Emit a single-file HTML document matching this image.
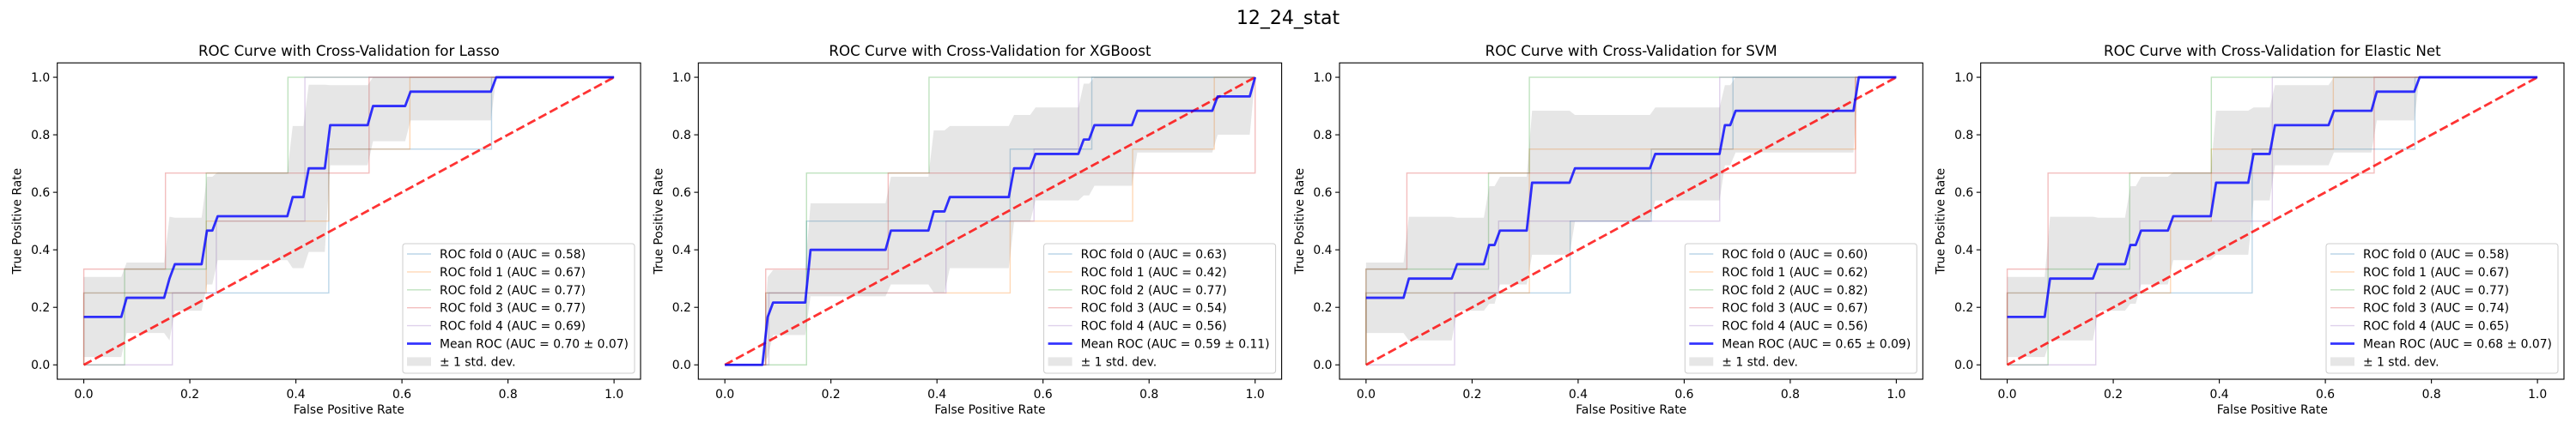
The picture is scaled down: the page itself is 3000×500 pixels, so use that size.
<!DOCTYPE html>
<html><head><meta charset="utf-8"><style>
html,body{margin:0;padding:0;background:#fff;width:3000px;height:500px;overflow:hidden}
svg text{font-family:"DejaVu Sans","Liberation Sans",sans-serif;fill:#000}
</style></head><body>
<svg id="fig" width="3000" height="500" viewBox="0 0 3000 500" xmlns="http://www.w3.org/2000/svg">
<rect width="3000" height="500" fill="#fff"/>
<text x="1500" y="28" font-size="22" text-anchor="middle">12_24_stat</text>
</svg>
<script>
// ---- data ----
const panelTitles = ["ROC Curve with Cross-Validation for Lasso","ROC Curve with Cross-Validation for XGBoost","ROC Curve with Cross-Validation for SVM","ROC Curve with Cross-Validation for Elastic Net"];
const foldAuc = [["0.58","0.67","0.77","0.77","0.69"],["0.63","0.42","0.77","0.54","0.56"],["0.60","0.62","0.82","0.67","0.56"],["0.58","0.67","0.77","0.74","0.65"]];
const meanAuc = ["0.70 ± 0.07","0.59 ± 0.11","0.65 ± 0.09","0.68 ± 0.07"];
const lassoFpr = [[0,0,.462,.462,.769,.769,1],[0,0,.231,.231,.462,.462,.615,.615,1],[0,.077,.077,.231,.231,.385,.385,1],[0,0,.154,.154,.538,.538,1],[0,.167,.167,.25,.25,.417,.417,1]];
const lassoTpr = [[0,.25,.25,.75,.75,1,1],[0,.25,.25,.5,.5,.75,.75,1,1],[0,0,.333,.333,.667,.667,1,1],[0,.333,.333,.667,.667,1,1],[0,0,.25,.25,.5,.5,1,1]];
const xgbFpr = [[0,.077,.077,.154,.154,.538,.538,.692,.692,1],[0,.077,.077,.538,.538,.769,.769,.923,.923,1],[0,.154,.154,.385,.385,1],[0,.077,.077,.308,.308,1,1],[0,.083,.083,.417,.417,.583,.583,.667,.667,1]];
const xgbTpr = [[0,0,.25,.25,.5,.5,.75,.75,1,1],[0,0,.25,.25,.5,.5,.75,.75,1,1],[0,0,.667,.667,1,1],[0,0,.333,.333,.667,.667,1],[0,0,.25,.25,.5,.5,.75,.75,1,1]];
const svmFpr = [[0,0,.385,.385,.538,.538,.692,.692,1],[0,0,.308,.308,.923,.923,1],[0,0,.231,.231,.308,.308,1],[0,0,.077,.077,.923,.923,1],[0,.167,.167,.25,.25,.667,.667,1]];
const svmTpr = [[0,.25,.25,.5,.5,.75,.75,1,1],[0,.25,.25,.75,.75,1,1],[0,.333,.333,.667,.667,1,1],[0,.333,.333,.667,.667,1,1],[0,0,.25,.25,.5,.5,1,1]];
const enetFpr = [[0,0,.462,.462,.769,.769,1],[0,0,.308,.308,.385,.385,.615,.615,1],[0,.077,.077,.231,.231,.385,.385,1],[0,0,.077,.077,.692,.692,1],[0,.167,.167,.25,.25,.5,.5,1]];
const enetTpr = [[0,.25,.25,.75,.75,1,1],[0,.25,.25,.5,.5,.75,.75,1,1],[0,0,.333,.333,.667,.667,1,1],[0,.333,.333,.667,.667,1,1],[0,0,.25,.25,.5,.5,1,1]];
const tickVals = [0,0.2,0.4,0.6,0.8,1.0];
const tickLabels = ["0.0","0.2","0.4","0.6","0.8","1.0"];
const allFpr = [lassoFpr,xgbFpr,svmFpr,enetFpr];
const allTpr = [lassoTpr,xgbTpr,svmTpr,enetTpr];
const foldColors = ["#1f77b4","#ff7f0e","#2ca02c","#d62728","#9467bd"];

const NS="http://www.w3.org/2000/svg";
const svg=document.getElementById('fig');
function mk(tag,attrs,parent){const e=document.createElementNS(NS,tag);for(const k in attrs)e.setAttribute(k,attrs[k]);(parent||svg).appendChild(e);return e;}
function interp(x,xs,ys){let i=-1;for(let k=0;k<xs.length;k++){if(xs[k]<=x)i=k;}
  if(i<0)return ys[0]; if(i>=xs.length-1)return ys[ys.length-1];
  const x0=xs[i],x1=xs[i+1]; if(x1===x0)return ys[i+1]; return ys[i]+(ys[i+1]-ys[i])*(x-x0)/(x1-x0);}

const AX_W=679.3, AX_H=368.7, TOP=73.3;
const lefts=[66.7,813.3,1560,2306.7];
for(let p=0;p<4;p++){
  const L=lefts[p];
  const sx=v=>L+(v+0.05)/1.1*AX_W;
  const sy=v=>TOP+(1.05-v)/1.1*AX_H;
  const g=mk('g',{});
  
  
  const clipId='clip'+p;
  const cp=mk('clipPath',{id:clipId},g); mk('rect',{x:L,y:TOP,width:AX_W,height:AX_H},cp);
  const plot=mk('g',{'clip-path':'url(#'+clipId+')'},g);
  // mean computation
  const N=100, mf=[], mt=[], sd=[];
  for(let i=0;i<N;i++){const x=i/(N-1);mf.push(x);
    const vals=allFpr[p].map((fx,k)=>interp(x,fx,allTpr[p][k]));
    const m=vals.reduce((a,b)=>a+b,0)/vals.length;
    const s=Math.sqrt(vals.reduce((a,b)=>a+(b-m)*(b-m),0)/vals.length);
    mt.push(m);sd.push(s);}
  mt[N-1]=1;
  // folds
  for(let k=0;k<5;k++){
    const d=allFpr[p][k].map((x,i)=>(i?'L':'M')+sx(x).toFixed(2)+' '+sy(allTpr[p][k][i]).toFixed(2)).join(' ');
    const fl=mk('path',{d:d,fill:'none',stroke:foldColors[k],'stroke-opacity':0.3,'stroke-width':1.4},plot);
    
    
  }
  // band
  let up=[],lo=[];
  for(let i=0;i<N;i++){up.push(sx(mf[i]).toFixed(2)+' '+sy(Math.min(mt[i]+sd[i],1)).toFixed(2));lo.push(sx(mf[i]).toFixed(2)+' '+sy(Math.max(mt[i]-sd[i],0)).toFixed(2));}
  const band=mk('path',{d:'M'+up.join(' L')+' L'+lo.reverse().join(' L')+' Z',fill:'#808080','fill-opacity':0.2,stroke:'none'},plot);
  
  
  // chance
  const ch=mk('line',{x1:sx(0),y1:sy(0),x2:sx(1),y2:sy(1),stroke:'#ff0000','stroke-opacity':0.8,'stroke-width':2.8,'stroke-dasharray':'10.3 4.4'},plot);
  
  
  // mean
  const md=mf.map((x,i)=>(i?'L':'M')+sx(x).toFixed(2)+' '+sy(mt[i]).toFixed(2)).join(' ');
  const ml=mk('path',{d:md,fill:'none',stroke:'#0000ff','stroke-opacity':0.8,'stroke-width':2.8,'stroke-linejoin':'round'},plot);
  
  
  // frame
  mk('rect',{x:L,y:TOP,width:AX_W,height:AX_H,fill:'none',stroke:'#000','stroke-width':1.1},g);
  // ticks
  for(let t=0;t<tickVals.length;t++){
    const X=sx(tickVals[t]), Y=sy(tickVals[t]);
    mk('line',{x1:X,y1:TOP+AX_H,x2:X,y2:TOP+AX_H+4.9,stroke:'#000','stroke-width':1.1},g);
    const xt=mk('text',{x:X,y:TOP+AX_H+22,'font-size':13.9,'text-anchor':'middle'},g);xt.textContent=tickLabels[t];
    
    
    mk('line',{x1:L,y1:Y,x2:L-4.9,y2:Y,stroke:'#000','stroke-width':1.1},g);
    const yt=mk('text',{x:L-8.5,y:Y+5,'font-size':13.9,'text-anchor':'end'},g);yt.textContent=tickLabels[t];
    
    
  }
  const tt=mk('text',{x:L+AX_W/2,y:65,'font-size':16.7,'text-anchor':'middle'},g);tt.textContent=panelTitles[p];
  
  
  const xl=mk('text',{x:L+AX_W/2,y:482,'font-size':13.9,'text-anchor':'middle'},g);xl.textContent='False Positive Rate';
  
  
  const yl=mk('text',{x:0,y:0,'font-size':13.9,'text-anchor':'middle',transform:'translate('+(L-42)+','+(TOP+AX_H/2)+') rotate(-90)'},g);yl.textContent='True Positive Rate';
  
  
  // legend
  const LR=L+AX_W-7, LB=TOP+AX_H-7, LW=270, LH=151, LL=LR-LW, LT=LB-LH;
  const lg=mk('g',{},g);
  
  
  mk('rect',{x:LL,y:LT,width:LW,height:LH,rx:3,fill:'#fff','fill-opacity':0.8,stroke:'#cccccc','stroke-width':1},lg);
  const labels=foldAuc[p].map((a,k)=>'ROC fold '+k+' (AUC = '+a+')').concat(['Mean ROC (AUC = '+meanAuc[p]+')','± 1 std. dev.']);
  for(let i=0;i<7;i++){
    const Y=LT+12+i*20.9;
    if(i<5){mk('line',{x1:LL+5,y1:Y,x2:LL+33,y2:Y,stroke:foldColors[i],'stroke-opacity':0.3,'stroke-width':1.4},lg);}
    else if(i===5){mk('line',{x1:LL+5,y1:Y,x2:LL+33,y2:Y,stroke:'#0000ff','stroke-opacity':0.8,'stroke-width':2.8},lg);}
    else{mk('rect',{x:LL+5,y:Y-5,width:28,height:10,fill:'#808080','fill-opacity':0.2},lg);}
    const lt=mk('text',{x:LL+43,y:Y+5,'font-size':13.9},lg);lt.textContent=labels[i];
    
    
  }
}
</script>
</body></html>
